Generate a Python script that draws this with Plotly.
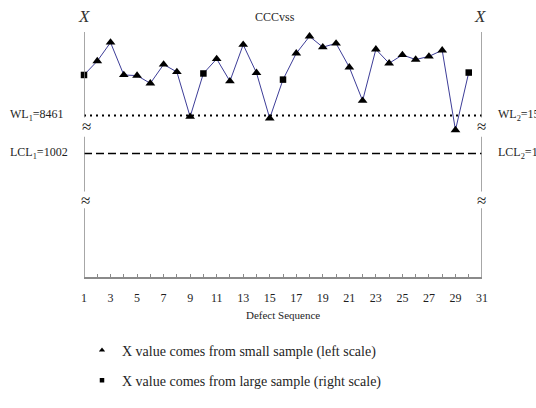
import plotly.graph_objects as go

# Defect sequence numbers and plotted X values (chart units, bottom of chart = 0)
sequence = list(range(1, 31))
x_values = [217.7, 232.7, 252.7, 217.7, 217.0, 208.7, 229.0, 221.0, 172.7, 219.3,
            235.0, 211.0, 250.3, 220.0, 171.0, 212.7, 241.0, 259.3, 247.7, 251.7,
            226.0, 190.0, 245.3, 230.3, 239.3, 234.3, 237.7, 244.3, 158.3, 220.3]
# which sample each X value comes from
source = ["large", "small", "small", "small", "small", "small", "small", "small", "small", "large",
          "small", "small", "small", "small", "small", "large", "small", "small", "small", "small",
          "small", "small", "small", "small", "small", "small", "small", "small", "small", "large"]

tick_values = list(range(1, 32, 2))
tick_labels = [str(v) for v in tick_values]

WL_LEVEL = 174.0
LCL_LEVEL = 133.0
WL_TEXT = ["WL<sub>1</sub>=8461", "WL<sub>2</sub>=1538"]
LCL_TEXT = ["LCL<sub>1</sub>=1002", "LCL<sub>2</sub>=1104"]

# figure geometry (pixels)
W, H = 536, 408
PL, PR, PT, PB = 84, 482, 32, 296
Y_TOP = PB - PT


def px_x(px):
    return (px - PL) / (PR - PL)


def px_y(py):
    return (PB - py) / (PB - PT)


SERIF = "Liberation Serif"
AXIS_GREY = "#8a8a8a"
TEXT = "#1e1e1e"

fig = go.Figure()

# connecting line
fig.add_trace(go.Scatter(
    x=sequence, y=x_values, mode="lines",
    line=dict(color="#3d3d98", width=1), showlegend=False, hoverinfo="skip",
    cliponaxis=False,
))

symbol_of = {"small": "triangle-up", "large": "square"}
size_of = {"small": 8.5, "large": 6.5}
for kind in ["small", "large"]:
    xs = [s for s, k in zip(sequence, source) if k == kind]
    ys = [v for v, k in zip(x_values, source) if k == kind]
    fig.add_trace(go.Scatter(
        x=xs, y=ys, mode="markers",
        marker=dict(symbol=symbol_of[kind], size=size_of[kind], color="black", line=dict(width=0)),
        showlegend=False, cliponaxis=False,
    ))

# legend entries (smaller symbols)
legend_names = {"small": "X value comes from small sample (left scale)",
                "large": "X value comes from large sample (right scale)"}
legend_size = {"small": 5.5, "large": 4.5}
for kind in ["small", "large"]:
    fig.add_trace(go.Scatter(
        x=[None], y=[None], mode="markers", name=legend_names[kind],
        marker=dict(symbol=symbol_of[kind], size=legend_size[kind], color="black"),
        legendgroup=kind,
    ))

shapes = []
# warning and lower control lines
shapes.append(dict(type="line", xref="x", yref="y", x0=1, x1=31, y0=WL_LEVEL, y1=WL_LEVEL,
                   line=dict(color="black", width=2, dash="2px,4px")))
shapes.append(dict(type="line", xref="x", yref="y", x0=1, x1=31, y0=LCL_LEVEL, y1=LCL_LEVEL,
                   line=dict(color="black", width=1.5, dash="8px,4px")))

# broken vertical scales
segments = [(Y_TOP, 172), (151, 92), (74, 0)]
for xv in (1, 31):
    for y0, y1 in segments:
        shapes.append(dict(type="line", xref="x", yref="y", x0=xv, x1=xv, y0=y0, y1=y1,
                           line=dict(color=AXIS_GREY, width=1.5)))

annotations = []


def label(text, x, y, size=11, xanchor="center", italic=False, color=TEXT):
    annotations.append(dict(
        text=text, xref="paper", yref="paper", x=px_x(x), y=px_y(y),
        xanchor=xanchor, yanchor="middle", showarrow=False,
        font=dict(family=SERIF, size=size, color=color,
                  style="italic" if italic else "normal"),
    ))


label("X", 84, 15, size=17, italic=True, color="#333")
label("X", 480, 15, size=17, italic=True, color="#333")
label("CCCvss", 275, 16, size=12)
label(WL_TEXT[0], 8, 121, size=12, xanchor="left")
label(WL_TEXT[1], 496, 121, size=12, xanchor="left")
label(LCL_TEXT[0], 8, 162, size=12, xanchor="left")
label(LCL_TEXT[1], 496, 162, size=12, xanchor="left")
for bx, by in [(86, 134), (481, 134), (85, 214), (481, 214)]:
    label("≈", bx, by, size=17, color="#222")
label("Defect Sequence", 283, 337, size=11)

fig.update_layout(
    width=W, height=H,
    margin=dict(l=PL, r=W - PR, t=PT, b=H - PB, pad=0),
    paper_bgcolor="white", plot_bgcolor="white",
    xaxis=dict(range=[1, 31], tickvals=tick_values, ticktext=tick_labels,
               ticks="inside", ticklen=3, tickwidth=1, tickcolor=AXIS_GREY,
               minor=dict(dtick=1, tick0=1, ticks="inside", ticklen=3, tickwidth=1,
                          tickcolor=AXIS_GREY, showgrid=False),
               ticklabelstandoff=9,
               showline=True, linecolor=AXIS_GREY, linewidth=1.5,
               showgrid=False, zeroline=False, fixedrange=True,
               tickfont=dict(family=SERIF, size=12, color=TEXT)),
    yaxis=dict(range=[0, Y_TOP], visible=False, fixedrange=True),
    shapes=shapes, annotations=annotations,
    showlegend=True,
    legend=dict(x=px_x(82), y=px_y(358), xanchor="left", yanchor="top",
                font=dict(family=SERIF, size=14, color=TEXT),
                tracegroupgap=9, bgcolor="rgba(0,0,0,0)"),
)

fig.write_html("out.html")
